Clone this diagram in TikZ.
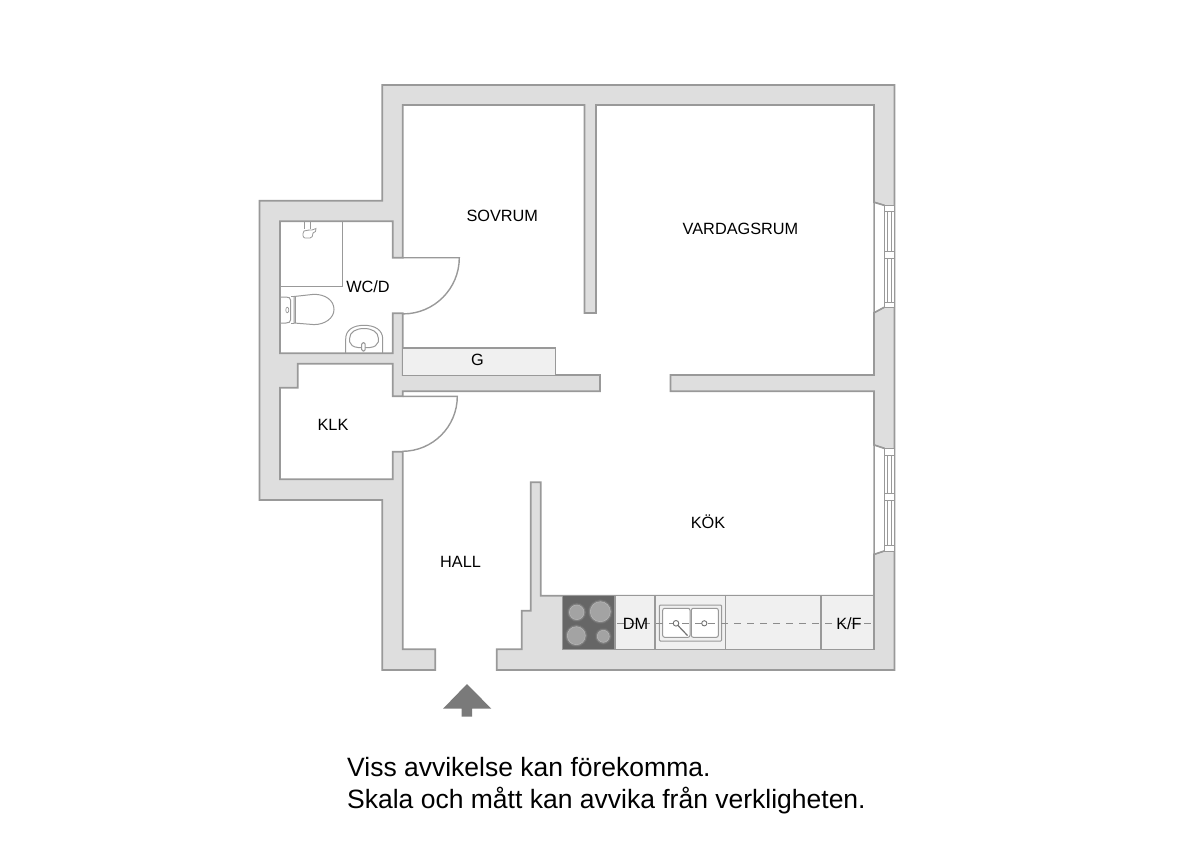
\documentclass[tikz,border=0pt]{standalone}
\usepackage{fontspec}
\setmainfont{Liberation Sans}
\definecolor{wallfill}{HTML}{DEDEDE}
\definecolor{wallline}{HTML}{999999}
\definecolor{cabfill}{HTML}{F0F0F0}
\definecolor{hobfill}{HTML}{666666}
\definecolor{arrowfill}{HTML}{7A7A7A}
\tikzset{
  wall/.style={fill=wallfill,draw=wallline,line width=1.7pt,line join=miter},
  cab/.style={fill=cabfill,draw=wallline,line width=1.4pt},
  thin line/.style={draw=wallline,line width=1pt},
  winpart/.style={fill=white,draw=wallline,line width=0.9pt},
  door/.style={draw=wallline,line width=1.4pt},
  room/.style={font=\fontsize{16.3}{20}\selectfont,text=black,inner sep=0pt},
  note/.style={font=\fontsize{26.5}{32}\selectfont,text=black,inner sep=0pt,anchor=base west},
}
\begin{document}
\begin{tikzpicture}[x=1pt,y=-1pt]
\useasboundingbox (0,0) rectangle (1200,849);
% walls: one closed contour, outer edge then inner edge
\path[wall]
 (496.7,670) -- (894.5,670) -- (894.5,85) -- (382.3,85) -- (382.3,200.7) -- (259.5,200.7)
 -- (259.5,500) -- (382.3,500) -- (382.3,670) -- (435.3,670) -- (435.3,649.3)
 -- (402.7,649.3) -- (402.7,451.7) -- (392.7,451.7) -- (392.7,479.3) -- (280,479.3)
 -- (280,387.7) -- (297.7,387.7) -- (297.7,363.7) -- (392.7,363.7) -- (392.7,396.3)
 -- (402.7,396.3) -- (402.7,391.3) -- (600,391.3) -- (600,375) -- (402.7,375)
 -- (402.7,313.3) -- (392.7,313.3) -- (392.7,353.3) -- (280,353.3) -- (280,221.3)
 -- (392.7,221.3) -- (392.7,257.7) -- (402.7,257.7) -- (402.7,105) -- (584.5,105)
 -- (584.5,313) -- (596,313) -- (596,105) -- (874,105) -- (874,202.3) -- (884,205.3)
 -- (884,307.3) -- (874,312.7) -- (874,375) -- (670.5,375) -- (670.5,391.3) -- (874,391.3)
 -- (874,445) -- (884,448.3) -- (884,551) -- (874,554.3) -- (874,595.7) -- (540.7,595.7)
 -- (540.7,482.3) -- (530.7,482.3) -- (530.7,610.7) -- (521.7,610.7) -- (521.7,649.3)
 -- (496.7,649.3) -- cycle;
% openings at the windows
\fill[white] (874.8,203) -- (884,205.9) -- (884,306.7) -- (874.8,312) -- cycle;
\fill[white] (874.8,445.7) -- (884,448.9) -- (884,550.4) -- (874.8,553.6) -- cycle;
\draw[wallline,line width=1.5pt] (874,202.3) -- (884,205.3) (874,312.7) -- (884,307.3)
  (874,445) -- (884,448.3) (874,554.3) -- (884,551) (874,202.3) -- (874,312.7) (874,445) -- (874,554.3);
% windows
\foreach \t/\a/\b/\c/\d/\e in {205.3/211/251/258.3/302.7/307.3, 448.3/455/493/500.7/545/551}{
  \path[winpart] (884,\t) rectangle (894.5,\e);
  \path[winpart] (884,\a) rectangle (894.5,\d);
  \path[winpart] (884,\b) rectangle (894.5,\c);
  \draw[wallline,line width=0.8pt] (887.5,\a) -- (887.5,\b) (891,\a) -- (891,\b)
     (887.5,\c) -- (887.5,\d) (891,\c) -- (891,\d);
}
% doors
\draw[door] (402.7,257.7) -- (459.3,257.7) arc[start angle=0,end angle=-90,radius=56.2pt];
\draw[door] (402.7,396.3) -- (457.3,396.3) arc[start angle=0,end angle=-90,radius=55pt];
% closet
\path[cab] (402.7,375) -- (402.7,348) -- (555.7,348) -- (555.7,375);
% shower
\draw[thin line,line width=1.4pt] (342.3,221.3) -- (342.3,286.7) -- (280,286.7);
\draw[thin line,line width=0.8pt] (304.5,221.5) -- (304.5,229) (310,221.5) -- (310,229);
\path[thin line,line width=0.8pt,fill=white] (304,231) .. controls (307,229) and (310,231) .. (312,230)
  -- (316,228.5) -- (315.5,231.5) -- (313,233) .. controls (313,236) and (312,238) .. (310,238)
  -- (305,238) .. controls (303,238) and (302,234) .. (304,231) -- cycle;
% toilet
\path[thin line,fill=white] (314,324.6) .. controls (325,324.6) and (334,318) .. (334,309.5)
  .. controls (334,300) and (325,294.3) .. (314,294.3) -- (294,296.5) -- (294,323) -- cycle;
\path[thin line,fill=white] (280.3,297) -- (286,297) .. controls (289,297) and (290.5,298) .. (290.5,300)
  -- (290.5,320) .. controls (290.5,322) and (289,323) .. (286,323) -- (280.3,323) -- cycle;
\draw[thin line] (294,296.5) -- (290.5,296.5) (294,323) -- (290.5,323) (295.6,296.4) -- (295.6,323.2);
\path[thin line,line width=0.7pt] (287.3,310) ellipse [x radius=1.5pt,y radius=2.8pt];
% basin
\draw[thin line] (345.7,353) -- (345.7,339) .. controls (345.7,330) and (353,325.3) .. (364,325.3)
  .. controls (375,325.3) and (382.7,330) .. (382.7,339) -- (382.7,353);
\draw[thin line] (349.7,338) .. controls (349.7,332) and (356,328.5) .. (364,328.5)
  .. controls (372,328.5) and (378.3,332) .. (378.3,338) -- (378.3,342)
  .. controls (377,345) and (375,347) .. (370,347.5) -- (358,347.5)
  .. controls (353,347) and (350.5,345) .. (349.7,342) -- cycle;
\path[thin line,fill=white,rounded corners=1.4pt] (361.7,342.7) rectangle (365.2,351);
% cabinets
\path[cab] (615,595.7) rectangle (655,649.3);
\path[cab] (655,595.7) rectangle (725.3,649.3);
\path[cab] (725.3,595.7) rectangle (821,649.3);
\path[cab] (821,595.7) rectangle (874,649.3);
% hob
\path[fill=hobfill,draw=wallline,line width=1.4pt] (562.3,595.7) rectangle (615,649.3);
\foreach \x/\y/\r in {576.7/612.3/9.3, 600.3/611.7/12, 576.3/635.7/11, 603.3/636.3/8}{
  \draw[black!58,line width=0.8pt,fill=black!50] (\x,\y) circle[radius=\r pt];
  \draw[black!28,line width=0.5pt,fill=black!36] (\x,\y) circle[radius=\r pt-2pt];
}
% sink
\path[draw=wallline,line width=1pt,fill=cabfill,rounded corners=1pt] (659.3,605) rectangle (721.7,641);
\path[draw=wallline,line width=1pt,fill=white,rounded corners=2pt] (662.7,608.3) rectangle (690,637.3);
\path[draw=wallline,line width=1pt,fill=white,rounded corners=2pt] (691.3,608.3) rectangle (718.3,637.3);
% dashed line
\draw[black!45,line width=1pt,dash pattern=on 7pt off 6pt] (617,623) -- (872,623);
\path[draw=black!55,line width=0.9pt,fill=white] (676,623.3) circle[radius=2.8pt] (704.3,623.3) circle[radius=2.6pt];
\draw[black!55,line width=1.2pt] (677.5,625) -- (687.5,635.5);
% arrow
\fill[arrowfill] (467,684) -- (491.3,708.7) -- (472,708.7) -- (472,716.7) -- (461.7,716.7) -- (461.7,708.7) -- (443,708.7) -- cycle;
% labels
\node[room] (sovrum) at (502.3,216) {SOVRUM};
\node[room] (vardagsrum) at (740.5,228.8) {VARDAGSRUM};
\node[room] (wcd) at (368,287) {WC/D};
\node[room] (g) at (477.5,360) {G};
\node[room] (klk) at (333,425) {KLK};
\node[room] (hall) at (460.5,561.5) {HALL};
\node[room] (kok) at (708,521.5) {KÖK};
\node[room] (dm) at (635.5,624) {DM};
\node[room] (kf) at (849,624) {K/F};
\node[note] (note1) at (347,776) {Viss avvikelse kan förekomma.};
\node[note] (note2) at (347,808) {Skala och mått kan avvika från verkligheten.};
\end{tikzpicture}
\end{document}
